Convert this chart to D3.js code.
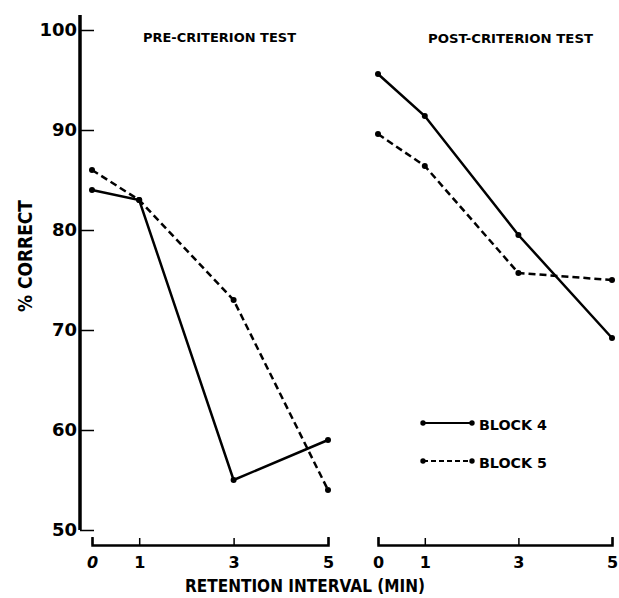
<!DOCTYPE html>
<html>
<head>
<meta charset="utf-8">
<script src="https://cdn.jsdelivr.net/npm/d3@7"></script>
<style>
  body { margin: 0; background: white; }
  svg { display: block; }
  text { font-family: 'DejaVu Sans', sans-serif; font-weight: bold; fill: #000; }
</style>
</head>
<body>
<svg id="chart" width="619" height="598"></svg>
<script>
/* DATA */

const times = [0, 1, 3, 5]
const yTicks = [50, 60, 70, 80, 90, 100]

// Pre-criterion test
const preBlock4 = [84, 83, 55, 59]
const preBlock5 = [86, 83, 73, 54]

// Post-criterion test
const postBlock4 = [95.6, 91.4, 79.5, 69.2]
const postBlock5 = [89.6, 86.4, 75.7, 75]

const panelTitles = ['PRE-CRITERION  TEST', 'POST-CRITERION  TEST']
const seriesNames = ['BLOCK  4', 'BLOCK  5']

/* SCALES */

const svg = d3.select('#chart')

const y = d3.scaleLinear().domain([50, 100]).range([530, 30])
const xPre = d3.scaleLinear().domain([0, 5]).range([92, 328])
const xPost = d3.scaleLinear().domain([0, 5]).range([378, 612])

/* Y AXIS */

const yAxis = svg.append('g')
  .attr('transform', 'translate(80,0)')
  .call(d3.axisLeft(y).tickValues(yTicks).tickSizeInner(-14).tickSizeOuter(0).tickPadding(3))

yAxis.select('.domain').remove()
yAxis.selectAll('.tick line').attr('stroke-width', 1.5)
yAxis.selectAll('.tick text')
  .attr('font-size', 18)
  .attr('font-family', "'DejaVu Sans', sans-serif")
  .attr('font-weight', 'bold')

// Thick vertical axis line
svg.append('line')
  .attr('x1', 80).attr('x2', 80)
  .attr('y1', y(101.5)).attr('y2', y(50))
  .attr('stroke', 'black')
  .attr('stroke-width', 3.5)

/* X AXES */

function drawXAxis (scale, italicZero) {
  const g = svg.append('g')
    .attr('transform', 'translate(0,545)')
    .call(d3.axisBottom(scale).tickValues(times).tickFormat(d3.format('d'))
      .tickSizeInner(-7).tickSizeOuter(-8).tickPadding(12))

  g.select('.domain').attr('stroke-width', 2.5)
  g.selectAll('.tick line').attr('stroke-width', 1.5)
  g.selectAll('.tick text')
    .attr('font-size', 16)
    .attr('font-family', "'DejaVu Sans', sans-serif")
    .attr('font-weight', 'bold')
    .attr('font-style', d => (d === 0 && italicZero) ? 'italic' : 'normal')
}

drawXAxis(xPre, true)
drawXAxis(xPost, false)

/* LINES */

function drawSeries (scale, values, dashed) {
  const pts = times.map((t, i) => [scale(t), y(values[i])])
  svg.append('path')
    .attr('d', d3.line()(pts))
    .attr('fill', 'none')
    .attr('stroke', 'black')
    .attr('stroke-width', 2.5)
    .attr('stroke-dasharray', dashed ? '7,4' : null)

  svg.append('g').selectAll('circle')
    .data(pts)
    .join('circle')
    .attr('cx', d => d[0])
    .attr('cy', d => d[1])
    .attr('r', 3)
    .attr('fill', 'black')
}

drawSeries(xPre, preBlock4, false)
drawSeries(xPre, preBlock5, true)
drawSeries(xPost, postBlock4, false)
drawSeries(xPost, postBlock5, true)

/* TITLES */

svg.append('text')
  .attr('x', 143).attr('y', 42)
  .attr('font-size', 13)
  .attr('textLength', 153)
  .attr('lengthAdjust', 'spacingAndGlyphs')
  .text(panelTitles[0])

svg.append('text')
  .attr('x', 428).attr('y', 43)
  .attr('font-size', 13)
  .attr('textLength', 165)
  .attr('lengthAdjust', 'spacingAndGlyphs')
  .text(panelTitles[1])

// Axis labels
svg.append('text')
  .attr('x', 185).attr('y', 592)
  .attr('font-size', 18)
  .attr('textLength', 240)
  .attr('lengthAdjust', 'spacingAndGlyphs')
  .text('RETENTION  INTERVAL  (MIN)')

svg.append('text')
  .attr('transform', 'translate(32,312) rotate(-90)')
  .attr('font-size', 19)
  .attr('textLength', 112)
  .attr('lengthAdjust', 'spacingAndGlyphs')
  .text('% CORRECT')

/* LEGEND */

const legendRows = [423, 461]
legendRows.forEach((ly, i) => {
  const g = svg.append('g')
  g.append('line')
    .attr('x1', 423).attr('x2', 472)
    .attr('y1', ly).attr('y2', ly)
    .attr('stroke', 'black')
    .attr('stroke-width', 2.2)
    .attr('stroke-dasharray', i === 1 ? '5,3' : null)
  g.selectAll('circle')
    .data([423, 472])
    .join('circle')
    .attr('cx', d => d).attr('cy', ly).attr('r', 2.7)
    .attr('fill', 'black')
  g.append('text')
    .attr('x', 479).attr('y', ly + 7)
    .attr('font-size', 14)
    .attr('textLength', 68)
    .attr('lengthAdjust', 'spacingAndGlyphs')
    .text(seriesNames[i])
})
</script>
</body>
</html>
